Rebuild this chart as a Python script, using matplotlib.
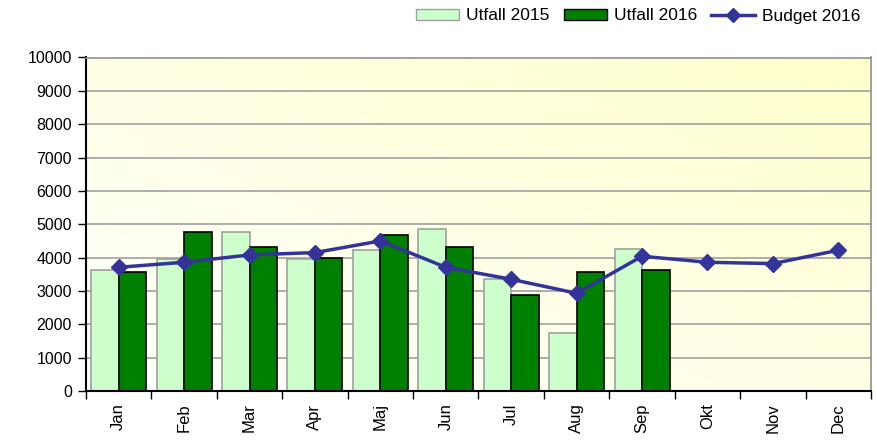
import matplotlib
matplotlib.use("Agg")
import matplotlib.pyplot as plt
import numpy as np
from matplotlib.lines import Line2D
from matplotlib.patches import Patch

plt.rcParams['font.family'] = ['Liberation Sans', 'DejaVu Sans']

months = ["Jan", "Feb", "Mar", "Apr", "Maj", "Jun", "Jul", "Aug", "Sep", "Okt", "Nov", "Dec"]
utfall_2015 = [3630, 3950, 4770, 3950, 4220, 4870, 3350, 1750, 4270]
utfall_2016 = [3580, 4770, 4320, 3990, 4690, 4310, 2890, 3580, 3620]
budget_2016 = [3710, 3860, 4080, 4150, 4500, 3710, 3350, 2930, 4040, 3860, 3820, 4220]
yticks = list(range(0, 10001, 1000))

fig = plt.figure(figsize=(8.77, 4.41), dpi=100)
ax = fig.add_axes([86/877, 1 - 391/441, (871-86)/877, (391-57.5)/441])

# gradient background
nx, ny = 200, 100
xx, yy = np.meshgrid(np.linspace(0, 1, nx), np.linspace(0, 1, ny))
t = np.clip((xx + yy) / 2, 0, 1)
c0 = np.array([1.0, 1.0, 1.0])
c1 = np.array([1.0, 1.0, 0.80])
img = c0[None, None, :] * (1 - t[..., None]) + c1[None, None, :] * t[..., None]
ax.imshow(img, extent=[-0.5, 11.5, 0, 10000], origin='lower', aspect='auto', zorder=0)

x = np.arange(len(months))
w = 0.42
x9 = np.arange(len(utfall_2015))
ax.bar(x9 - w/2, utfall_2015, width=w, color='#CCFFCC', edgecolor='#A0A0A0', linewidth=1.2, zorder=2)
ax.bar(x9 + w/2, utfall_2016, width=w, color='#008000', edgecolor='#000000', linewidth=1.2, zorder=2)
ax.plot(x, budget_2016, color='#333399', linewidth=2.5, marker='D', markersize=8.5, zorder=3)

ax.set_xlim(-0.5, 11.5)
ax.set_ylim(0, 10000)
ax.set_yticks(yticks)
ax.set_yticklabels([str(v) for v in yticks], fontsize=11.5)
ax.yaxis.grid(True, color='#A0A0A0', linewidth=1.2, zorder=1)
ax.set_axisbelow(True)

ax.set_xticks(np.arange(-0.5, 12, 1))
ax.set_xticklabels([])
ax.set_xticks(x, minor=True)
ax.set_xticklabels(months, minor=True, rotation=90, fontsize=12)
ax.tick_params(axis='x', which='minor', length=0, pad=9)
ax.tick_params(axis='x', which='major', length=6, width=1, color='black', direction='out')
ax.tick_params(axis='y', length=6, width=1, color='black', direction='out', pad=4)

for s in ['top', 'right']:
    ax.spines[s].set_color('#909090')
    ax.spines[s].set_linewidth(1.2)
ax.spines['left'].set_color('black')
ax.spines['bottom'].set_color('black')
ax.spines['left'].set_linewidth(1.5)
ax.spines['bottom'].set_linewidth(1.5)

handles = [
    Patch(facecolor='#CCFFCC', edgecolor='#A0A0A0', label='Utfall 2015'),
    Patch(facecolor='#008000', edgecolor='#000000', label='Utfall 2016'),
    Line2D([0], [0], color='#333399', linewidth=2.5, marker='D', markersize=7.5, label='Budget 2016'),
]
fig.legend(handles=handles, loc='center', bbox_to_anchor=(638/877, 1 - 16/441), ncol=3,
           frameon=False, fontsize=12.5, handlelength=2.5, handleheight=0.6, handletextpad=0.4,
           columnspacing=0.8)

fig.savefig('out.png', dpi=100)
